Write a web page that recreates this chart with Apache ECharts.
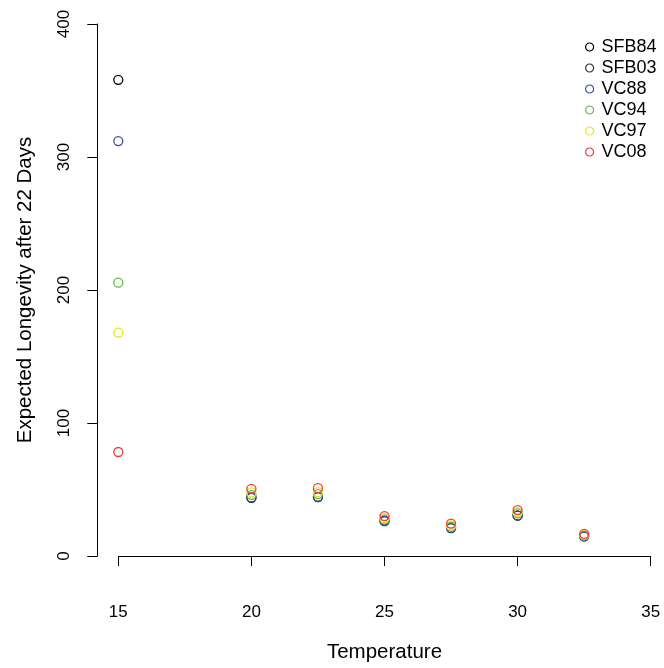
<!DOCTYPE html>
<html>
<head>
<meta charset="utf-8">
<script src="https://cdn.jsdelivr.net/npm/echarts@6/dist/echarts.min.js"></script>
<style>
  html, body { margin: 0; padding: 0; background: #fff; }
  #chart { width: 664px; height: 668px; }
</style>
</head>
<body>
<div id="chart"></div>
<script>
// Temperatures (x values)
var temperatures = [15, 20, 22.5, 25, 27.5, 30, 32.5];
// Series names
var seriesNames = ["SFB84", "SFB03", "VC88", "VC94", "VC97", "VC08"];
// Series values (expected longevity after 22 days)
var SFB84 = [358, 43.8, 44.3, 26.3, 21, 30.3, 14.8];
var SFB03 = [null, null, null, null, null, null, null];
var VC88  = [312, 44, 44.5, 26.5, 21.2, 30.5, 15];
var VC94  = [205.5, 46, 46.5, 27.5, 22, 32, 15.5];
var VC97  = [168, 47.8, 48, 28.5, 23, 33, 16];
var VC08  = [78.2, 50.5, 51, 30, 24.4, 34.5, 16.6];
// Axis ticks
var xTicks = [15, 20, 25, 30, 35];
var yTicks = [0, 100, 200, 300, 400];

var seriesValues = [SFB84, SFB03, VC88, VC94, VC97, VC08];
var colors = ["#000000", "#333333", "#3A4DA8", "#5DBB46", "#EAE31E", "#F23A3A"];

var font = "'Liberation Sans', Arial, Helvetica, sans-serif";

var series = seriesNames.map(function (name, i) {
  return {
    name: name,
    type: 'scatter',
    symbol: 'circle',
    symbolSize: 9,
    clip: false,
    itemStyle: { color: 'rgba(0,0,0,0)', borderColor: colors[i], borderWidth: 1.3, opacity: 1 },
    emphasis: { disabled: true },
    data: temperatures.map(function (t, j) {
      return seriesValues[i][j] == null ? null : [t, seriesValues[i][j]];
    })
  };
});

var chart = echarts.init(document.getElementById('chart'), null, { renderer: 'canvas' });
chart.setOption({
  animation: false,
  backgroundColor: '#ffffff',
  grid: { left: 118.3, right: 13.3, top: 24, bottom: 111.3, containLabel: false },
  legend: {
    orient: 'vertical',
    left: 580,
    top: 33,
    itemWidth: 8,
    itemHeight: 8,
    itemGap: 3,
    data: seriesNames.map(function (n, i) {
      return { name: n, icon: 'circle', itemStyle: { color: 'rgba(0,0,0,0)', borderColor: colors[i], borderWidth: 1.2 } };
    }),
    textStyle: { fontFamily: font, fontSize: 18, color: '#000', lineHeight: 18, padding: [0, 0, 0, 3] }
  },
  xAxis: {
    type: 'value',
    min: xTicks[0],
    max: xTicks[xTicks.length - 1],
    interval: 5,
    position: 'bottom',
    offset: 22,
    name: 'Temperature',
    nameLocation: 'middle',
    nameGap: 64,
    nameTextStyle: { fontFamily: font, fontSize: 20.5, color: '#000' },
    axisLine: { show: true, lineStyle: { color: '#000', width: 1 } },
    axisTick: { show: true, length: 10, lineStyle: { color: '#000', width: 1 } },
    axisLabel: { fontFamily: font, fontSize: 17, color: '#000', margin: 26 },
    splitLine: { show: false }
  },
  yAxis: {
    type: 'value',
    min: yTicks[0],
    max: yTicks[yTicks.length - 1],
    interval: 100,
    position: 'left',
    offset: 21,
    name: 'Expected Longevity after 22 Days',
    nameLocation: 'middle',
    nameGap: 61,
    nameTextStyle: { fontFamily: font, fontSize: 20.5, color: '#000' },
    axisLine: { show: true, lineStyle: { color: '#000', width: 1 } },
    axisTick: { show: true, length: 10, lineStyle: { color: '#000', width: 1 } },
    axisLabel: { fontFamily: font, fontSize: 17, color: '#000', rotate: 90, margin: 24 },
    splitLine: { show: false }
  },
  series: series
});
</script>
</body>
</html>
